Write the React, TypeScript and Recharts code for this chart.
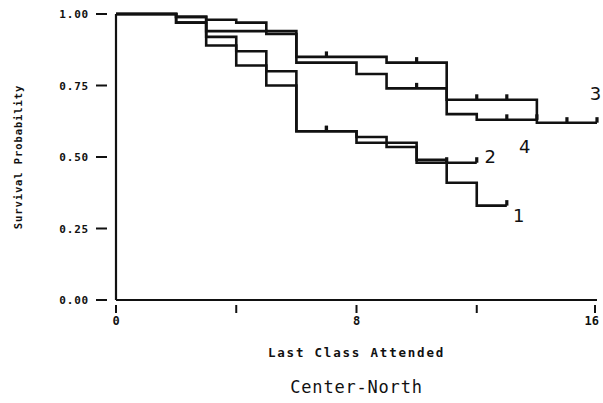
import { LineChart, Line, XAxis, YAxis, ReferenceDot } from 'recharts'

// step times (last class attended) and survival after each step, per group
const times1 = [0, 2, 3, 4, 5, 6, 8, 10, 11, 12]
const surv1 = [1.0, 0.97, 0.92, 0.87, 0.75, 0.59, 0.55, 0.49, 0.41, 0.33]
const censored1 = [7, 13]

const times2 = [0, 2, 3, 4, 5, 6, 8, 9, 10]
const surv2 = [1.0, 0.97, 0.89, 0.82, 0.8, 0.59, 0.57, 0.535, 0.48]
const censored2 = [7, 11, 12]

const times3 = [0, 2, 3, 4, 5, 6, 9, 11, 14]
const surv3 = [1.0, 0.99, 0.98, 0.97, 0.94, 0.85, 0.83, 0.7, 0.62]
const censored3 = [7, 10, 12, 13, 15, 16]

const times4 = [0, 2, 3, 5, 6, 8, 9, 11, 12]
const surv4 = [1.0, 0.99, 0.94, 0.93, 0.83, 0.79, 0.74, 0.65, 0.63]
const censored4 = [10, 13, 14]

const groupLabels = ['1', '2', '3', '4']
const labelX = [13.4, 12.45, 15.95, 13.6]
const labelY = [0.295, 0.5, 0.72, 0.535]

const xTicks = [0, 4, 8, 12, 16]
const xTickLabels = ['0', '', '8', '', '16']
const yTicks = [0, 0.25, 0.5, 0.75, 1]

const W = 603
const H = 403
const PLOT_LEFT = 116
const X_AXIS_H = 103
const PLOT_BOTTOM = H - X_AXIS_H
const INK = '#111'
const MONO = '"DejaVu Sans Mono", monospace'
const SANS = '"DejaVu Sans", sans-serif'

type Pt = { t: number; s: number; censored: boolean }

function buildCurve(times: number[], surv: number[], censored: number[]): Pt[] {
  const all = Array.from(new Set([...times, ...censored])).sort((a, b) => a - b)
  return all.map((t) => {
    let idx = 0
    times.forEach((tt, i) => {
      if (tt <= t) idx = i
    })
    return { t, s: surv[idx], censored: censored.includes(t) }
  })
}

const curves = [
  buildCurve(times1, surv1, censored1),
  buildCurve(times2, surv2, censored2),
  buildCurve(times3, surv3, censored3),
  buildCurve(times4, surv4, censored4),
]

const renderCensor = (props: any) => {
  const { cx, cy, payload, index } = props
  if (!payload || !payload.censored) return <g key={`n-${index}`} />
  return <rect key={`c-${index}`} x={cx - 1.6} y={cy - 5.5} width={3.2} height={5.5} fill={INK} />
}

const YTick = (props: any) => {
  const { y, payload } = props
  return (
    <g>
      <line x1={PLOT_LEFT - 20} x2={PLOT_LEFT - 9} y1={y} y2={y} stroke={INK} strokeWidth={2} />
      <text
        x={PLOT_LEFT - 27}
        y={y}
        dy={4}
        textAnchor="end"
        fontFamily={MONO}
        fontWeight="bold"
        fontSize={11}
        letterSpacing={0.8}
        fill={INK}
      >
        {Number(payload.value).toFixed(2)}
      </text>
    </g>
  )
}

const XTick = (props: any) => {
  const { x, payload, index } = props
  const label = xTickLabels[index] ?? ''
  return (
    <g>
      <line x1={x} x2={x} y1={PLOT_BOTTOM + 5} y2={PLOT_BOTTOM + 13} stroke={INK} strokeWidth={2} />
      <text
        x={x}
        y={PLOT_BOTTOM + 25}
        textAnchor={payload.value === 16 ? 'end' : 'middle'}
        dx={payload.value === 16 ? 4 : 0}
        fontFamily={MONO}
        fontWeight="bold"
        fontSize={12}
        fill={INK}
      >
        {label}
      </text>
    </g>
  )
}

export default function App() {
  return (
    <div style={{ position: 'fixed', top: 0, left: 0, width: W, height: H, background: '#fff' }}>
      <LineChart width={W} height={H} margin={{ top: 14, right: 6, bottom: 0, left: 0 }}>
        <XAxis
          dataKey="t"
          type="number"
          domain={[0, 16]}
          ticks={xTicks}
          height={X_AXIS_H}
          tickLine={false}
          axisLine={{ stroke: INK, strokeWidth: 2.2 }}
          tick={<XTick />}
          allowDuplicatedCategory={false}
          label={{
            content: (p: any) => {
              const vb = p.viewBox
              const cx = vb.x + vb.width / 2
              return (
                <g>
                  <text
                    x={cx}
                    y={PLOT_BOTTOM + 57}
                    textAnchor="middle"
                    fontFamily={MONO}
                    fontWeight="bold"
                    fontSize={12.5}
                    letterSpacing={1.8}
                    fill={INK}
                  >
                    Last Class Attended
                  </text>
                  <text
                    x={cx}
                    y={PLOT_BOTTOM + 93}
                    textAnchor="middle"
                    fontFamily={MONO}
                    fontSize={17}
                    letterSpacing={0.8}
                    fill={INK}
                  >
                    Center-North
                  </text>
                </g>
              )
            },
          }}
        />
        <YAxis
          type="number"
          domain={[0, 1]}
          ticks={yTicks}
          width={PLOT_LEFT}
          tickLine={false}
          axisLine={{ stroke: INK, strokeWidth: 2.2 }}
          tick={<YTick />}
          label={{
            content: (p: any) => {
              const vb = p.viewBox
              const cy = vb.y + vb.height / 2
              return (
                <text
                  x={22}
                  y={cy}
                  transform={`rotate(-90, 22, ${cy})`}
                  textAnchor="middle"
                  fontFamily={MONO}
                  fontWeight="bold"
                  fontSize={10.5}
                  letterSpacing={0.9}
                  fill={INK}
                >
                  Survival Probability
                </text>
              )
            },
          }}
        />
        {curves.map((data, i) => (
          <Line
            key={groupLabels[i]}
            data={data}
            dataKey="s"
            type="stepAfter"
            stroke={INK}
            strokeWidth={2.6}
            dot={renderCensor}
            activeDot={false}
            isAnimationActive={false}
          />
        ))}
        {groupLabels.map((g, i) => (
          <ReferenceDot
            key={`lbl-${g}`}
            x={labelX[i]}
            y={labelY[i]}
            r={1}
            fill="none"
            stroke="none"
            ifOverflow="visible"
            label={{ value: g, position: 'center', fontFamily: SANS, fontSize: 18, fill: INK }}
          />
        ))}
      </LineChart>
    </div>
  )
}
